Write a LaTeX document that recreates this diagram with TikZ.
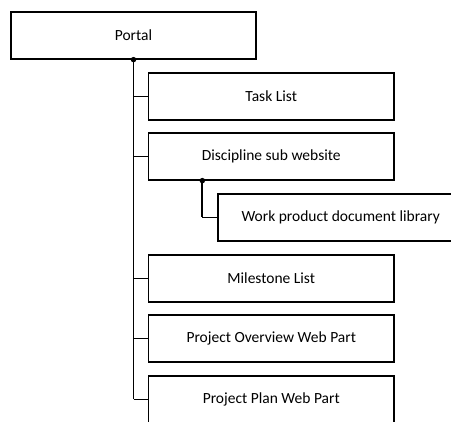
\documentclass[tikz,border=0pt]{standalone}
\usepackage{fontspec}
\setmainfont{Carlito}
\begin{document}
\begin{tikzpicture}[x=1pt,y=-1pt,
  box/.style={draw=black,line width=1.3pt,fill=white,minimum height=47pt,inner sep=0pt,
    font=\fontsize{15.5}{18}\selectfont},
  child/.style={box,minimum width=245.5pt},
  branch/.style={draw=black,line width=1pt},
  trunk/.style={draw=black,line width=1.8pt},
  jdot/.style={fill=black,circle,inner sep=0pt,minimum size=5.5pt}]
\useasboundingbox (0,0) rectangle (451,422);
\clip (0,0) rectangle (451,422);
\node[box,minimum width=245pt] (portal) at (133.5,35.5) {Portal};
\node[child] (task) at (271.25,96.5) {Task List};
\node[child] (disc) at (271.25,156.5) {Discipline sub website};
\node[child] (wpdl) at (340.75,217.5) {Work product document library};
\node[child] (mile) at (271.25,278.5) {Milestone List};
\node[child] (over) at (271.25,338.5) {Project Overview Web Part};
\node[child] (plan) at (271.25,399.5) {Project Plan Web Part};
\coordinate (dj) at ([xshift=54.5pt]disc.south west);
\coordinate (tb) at (portal.south |- plan.west);
\coordinate (wb) at (dj |- wpdl.west);
\path[trunk] (portal.south) -- (tb);
\path[branch] (tb) -- (plan.west);
\path[branch] (portal.south) |- (task.west);
\path[branch] (portal.south) |- (disc.west);
\path[branch] (portal.south) |- (mile.west);
\path[branch] (portal.south) |- (over.west);
\path[trunk] (dj) -- (wb);
\path[branch] (wb) -- (wpdl.west);
\node[jdot] (d1) at (portal.south) {};
\node[jdot] (d2) at (dj) {};
\end{tikzpicture}
\end{document}
